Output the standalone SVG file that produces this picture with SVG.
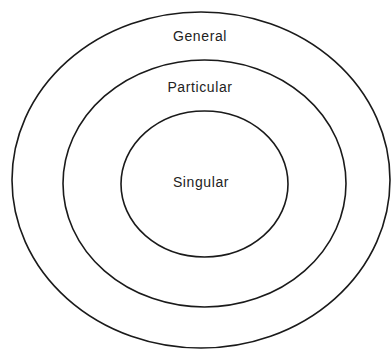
<svg xmlns="http://www.w3.org/2000/svg" width="391" height="350" viewBox="0 0 391 350">
<style>
.ring{fill:none;stroke:#1a1a1a;stroke-width:1.6}
.lbl{font-family:"Liberation Sans",Arial,sans-serif;font-size:14px;letter-spacing:0.6px;fill:#222;text-anchor:middle}
</style>
<rect width="391" height="350" fill="#fff"/>
<g id="general">
<ellipse class="ring" cx="201" cy="180" rx="189" ry="168"/>
<text class="lbl" x="200" y="41">General</text>
</g>
<g id="particular">
<ellipse class="ring" cx="204.5" cy="183.5" rx="141.5" ry="123.5"/>
<text class="lbl" x="200" y="92">Particular</text>
</g>
<g id="singular">
<ellipse class="ring" cx="204.5" cy="184" rx="83.5" ry="73"/>
<text class="lbl" x="201" y="187">Singular</text>
</g>
<g id="connectors"/>
</svg>
